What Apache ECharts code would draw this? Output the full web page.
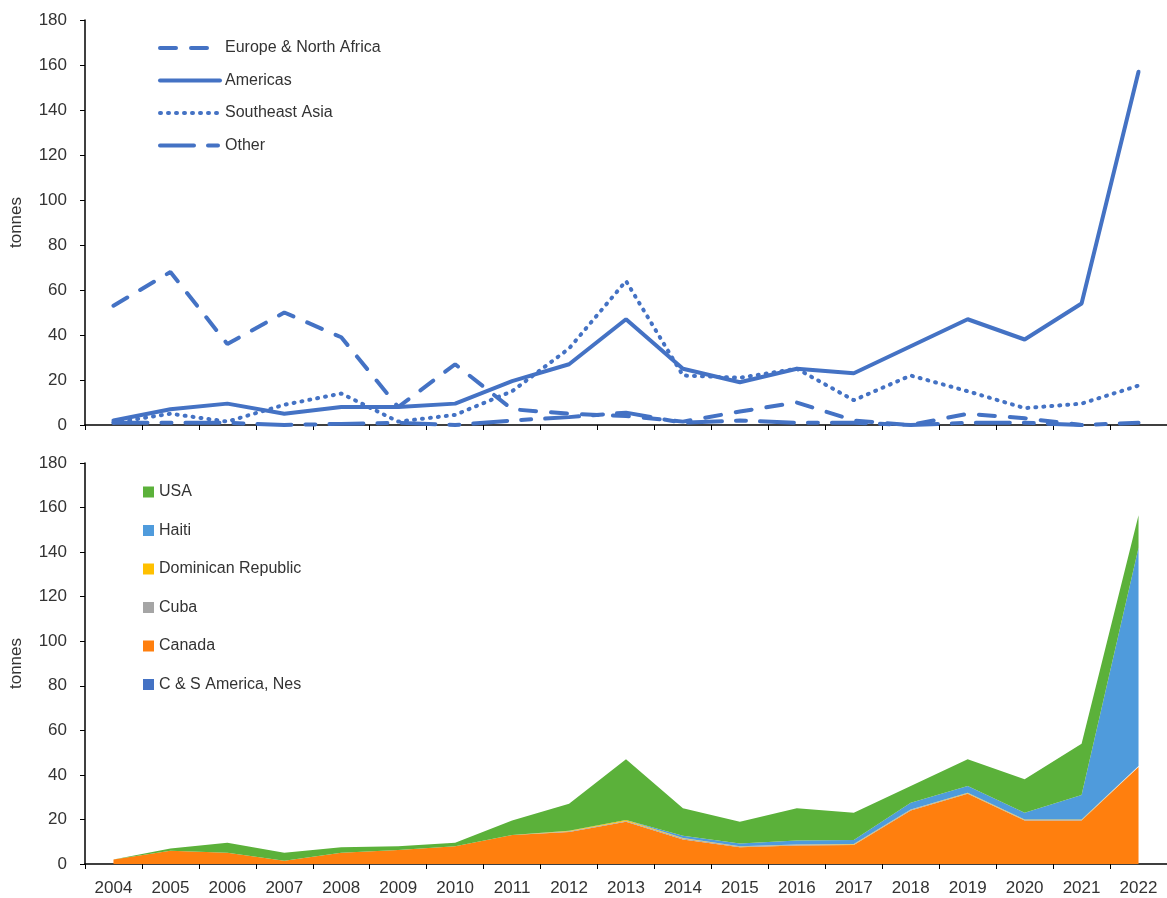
<!DOCTYPE html>
<html>
<head>
<meta charset="utf-8">
<script src="https://cdn.jsdelivr.net/npm/echarts@6/dist/echarts.min.js"></script>
<style>
html,body{margin:0;padding:0;background:#fff;}
#chart{width:1167px;height:898px;}
</style>
</head>
<body>
<div id="chart"></div>
<script>
// ---- data ----
const years = ['2004','2005','2006','2007','2008','2009','2010','2011','2012','2013','2014','2015','2016','2017','2018','2019','2020','2021','2022'];
const yTicks = [0,20,40,60,80,100,120,140,160,180];

// top chart (tonnes by region)
const europeNA   = [53,68,36,50,39,8,27,7,5,4,1.5,6,10,2,0,5,3,0,null];
const americas   = [2,7,9.5,5,8,8,9.5,19.5,27,47,25,19,25,23,35,47,38,54,157];
const seAsia     = [1,5,1.5,9,14,1.5,4.5,15,34,64,22,21,25,11,22,15,7.5,9.5,17.5];
const otherReg   = [1,1,1,0,0.5,1,0,2,3.5,5.5,1,2,1,1,0,1,1,0,1];

// bottom chart (Americas by country, stacked)
const csAmerica  = [0,0,0,0,0,0,0,0,0,0,0,0,0,0,0,0,0,0,0];
const canada     = [2,6,5,1.5,5,6.3,8,13,14.4,19,11,7.5,8.3,8.5,24,31.5,19.5,19.5,43.5];
const cuba       = [0,0,0,0,0,0,0,0,0.3,0.3,0.5,0.3,0.3,0.3,0.3,0.3,0.3,0.3,0.3];
const domRep     = [0,0,0,0,0,0,0,0,0.2,0.5,0.2,0.2,0.2,0.2,0.2,0.2,0.2,0.2,0.2];
const haiti      = [0,0,0,0,0,0,0,0,0,0,1,1.2,1.8,1.8,3,3,3,11,98];
const usa        = [0,1,4.5,3.5,2.5,1.7,1.5,6.5,12.1,27.2,12.3,9.8,14.4,12.2,7.5,12,15,23,14.5];

const FONT = 'Liberation Sans';
const TXT = '#333';
const BLUE = '#4472C4';

function yAxis(gridIndex){
  return {
    gridIndex, type:'value', min:yTicks[0], max:yTicks[yTicks.length-1], interval:yTicks[1]-yTicks[0],
    name:'tonnes', nameLocation:'middle', nameGap:60,
    nameTextStyle:{fontFamily:FONT,fontSize:17,color:TXT},
    axisLine:{show:true,lineStyle:{color:'#000',width:1.5}},
    axisTick:{show:true,length:5,lineStyle:{color:'#000'}},
    axisLabel:{fontFamily:FONT,fontSize:17,color:TXT,margin:18},
    splitLine:{show:false}
  };
}
function xAxis(gridIndex, showLabels){
  return {
    gridIndex, type:'category', data:years, boundaryGap:true,
    axisLine:{lineStyle:{color:'#000',width:1.5}},
    axisTick:{show:true,length:5,lineStyle:{color:'#000'}},
    axisLabel:{show:showLabels,fontFamily:FONT,fontSize:17,color:TXT,margin:16}
  };
}
function lineSeries(name, data, type){
  return {
    name, type:'line', xAxisIndex:0, yAxisIndex:0, data,
    symbol:'none', smooth:false, connectNulls:false,
    lineStyle:{color:BLUE,width:4,type:type,cap:'round'},
    itemStyle:{color:BLUE}
  };
}
function areaSeries(name, data, color){
  return {
    name, type:'line', xAxisIndex:1, yAxisIndex:1, data, stack:'am',
    symbol:'none', lineStyle:{width:0,color},
    areaStyle:{color,opacity:1}, itemStyle:{color}
  };
}

const chart = echarts.init(document.getElementById('chart'));
chart.setOption({
  animation:false,
  backgroundColor:'#fff',
  grid:[
    {left:85,right:0,top:20,height:405},
    {left:85,right:0,top:463,height:401}
  ],
  xAxis:[xAxis(0,false), xAxis(1,true)],
  yAxis:[yAxis(0), yAxis(1)],
  legend:[
    {
      orient:'vertical', left:158, top:40, padding:0, itemWidth:60, itemHeight:14, itemGap:16.5,
      itemStyle:{opacity:0},
      lineStyle:{width:4,color:BLUE,cap:'round'},
      textStyle:{fontFamily:FONT,fontSize:16,color:TXT,padding:0},
      data:['Europe & North Africa','Americas','Southeast Asia','Other']
    },
    {
      orient:'vertical', left:143, top:484, padding:0, itemWidth:11, itemHeight:11, itemGap:22.5, icon:'rect',
      textStyle:{fontFamily:FONT,fontSize:16,color:TXT,padding:0},
      data:['USA','Haiti','Dominican Republic','Cuba','Canada','C & S America, Nes']
    }
  ],
  series:[
    lineSeries('Europe & North Africa', europeNA, [16,15]),
    lineSeries('Americas', americas, 'solid'),
    lineSeries('Southeast Asia', seAsia, [1,7]),
    lineSeries('Other', otherReg, [34,14,10,14]),
    areaSeries('C & S America, Nes', csAmerica, '#4472C4'),
    areaSeries('Canada', canada, '#FF7F0E'),
    areaSeries('Cuba', cuba, '#A5A5A5'),
    areaSeries('Dominican Republic', domRep, '#FFC000'),
    areaSeries('Haiti', haiti, '#4F9BDC'),
    areaSeries('USA', usa, '#5BB13A')
  ]
});
</script>
</body>
</html>
